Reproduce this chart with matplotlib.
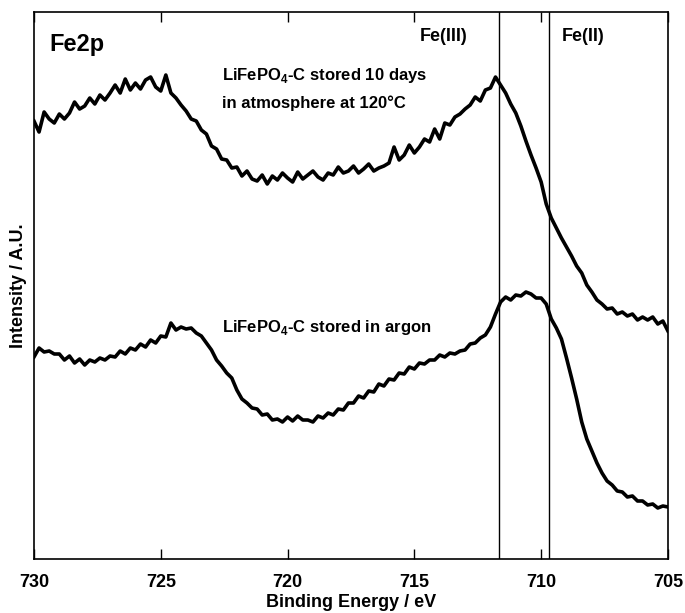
import numpy as np
import matplotlib
matplotlib.use("Agg")
import matplotlib.pyplot as plt

plt.rcParams['font.family'] = ['Liberation Sans', 'DejaVu Sans']
plt.rcParams['mathtext.fontset'] = 'custom'
plt.rcParams['mathtext.rm'] = 'Liberation Sans'
plt.rcParams['mathtext.bf'] = 'Liberation Sans:bold'

# binding energy grid, 730 -> 705 eV in 0.2 eV steps
energy = np.round(np.arange(730.0, 704.99, -0.2), 1)

# stored 10 days in atmosphere at 120 C (upper trace)
air = [438, 427, 447, 440, 436, 445, 440, 446, 457, 450,
       453, 461, 455, 464, 459, 466, 474, 466, 480, 469,
       476, 470, 479, 482, 472, 468, 484, 466, 461, 454,
       448, 440, 438, 429, 425, 413, 410, 400, 399, 391,
       392, 383, 388, 380, 378, 384, 375, 383, 379, 386,
       381, 377, 387, 380, 384, 388, 382, 379, 386, 384,
       392, 386, 388, 393, 386, 390, 395, 388, 391, 393,
       396, 412, 399, 404, 414, 406, 412, 420, 417, 430,
       420, 436, 434, 442, 445, 450, 454, 462, 458, 469,
       471, 482, 474, 466, 455, 446, 433, 418, 404, 391,
       377, 355, 341, 331, 321, 312, 303, 293, 286, 274,
       267, 259, 255, 250, 251, 245, 247, 243, 245, 239,
       242, 239, 242, 235, 238, 228]

# stored in argon (lower trace)
argon = [202, 211, 207, 208, 205, 205, 199, 203, 196, 200,
         194, 199, 197, 201, 199, 203, 202, 208, 205, 211,
         209, 215, 212, 219, 216, 223, 222, 236, 229, 232,
         230, 231, 226, 223, 216, 209, 199, 193, 186, 181,
         169, 160, 156, 151, 150, 144, 145, 139, 140, 137,
         142, 138, 143, 139, 139, 137, 143, 141, 146, 144,
         150, 149, 156, 156, 163, 161, 168, 167, 175, 173,
         180, 179, 186, 185, 192, 190, 196, 195, 199, 199,
         204, 202, 206, 205, 208, 209, 215, 216, 221, 224,
         232, 245, 257, 262, 259, 264, 263, 267, 265, 261,
         261, 255, 240, 231, 220, 201, 181, 160, 137, 120,
         108, 96, 86, 78, 74, 68, 67, 62, 63, 58,
         58, 54, 55, 51, 53, 52]

fe3_line = 711.65
fe2_line = 709.68

fig = plt.figure(figsize=(6.85, 6.13), dpi=100)
ax = fig.add_axes([0.0496, 0.0881, 0.9255, 0.8923])

ax.plot(energy, air, color='black', lw=2.6)
ax.plot(energy, argon, color='black', lw=2.6)
ax.axvline(fe3_line, color='black', lw=1.0)
ax.axvline(fe2_line, color='black', lw=1.0)

ax.set_xlim(730, 705)
ax.set_ylim(0, 547)
ax.set_xticks([730, 725, 720, 715, 710, 705])
ax.set_yticks([])
ax.tick_params(axis='x', direction='in', top=True, length=7, width=1.0,
               pad=11, labelsize=13)
for lab in ax.get_xticklabels():
    lab.set_fontweight('bold')
for s in ax.spines.values():
    s.set_linewidth(1.2)

ax.set_xlabel('Binding Energy / eV', fontsize=13, fontweight='bold', labelpad=2)
ax.set_ylabel('Intensity / A.U.', fontsize=13, fontweight='bold', labelpad=5)

ax.text(0.025, 0.94, 'Fe2p', transform=ax.transAxes, fontsize=17,
        fontweight='bold', va='center')
ax.text(0.296, 0.884, r'LiFePO$_\mathbf{4}$-C stored 10 days', transform=ax.transAxes,
        fontsize=12, fontweight='bold', va='center')
ax.text(0.296, 0.834, 'in atmosphere at 120\u00b0C', transform=ax.transAxes,
        fontsize=12, fontweight='bold', va='center')
ax.text(0.296, 0.424, r'LiFePO$_\mathbf{4}$-C stored in argon', transform=ax.transAxes,
        fontsize=12, fontweight='bold', va='center')
ax.text(0.609, 0.955, 'Fe(III)', transform=ax.transAxes, fontsize=13,
        fontweight='bold', va='center')
ax.text(0.833, 0.955, 'Fe(II)', transform=ax.transAxes, fontsize=13,
        fontweight='bold', va='center')

fig.savefig('out.png', dpi=100)
